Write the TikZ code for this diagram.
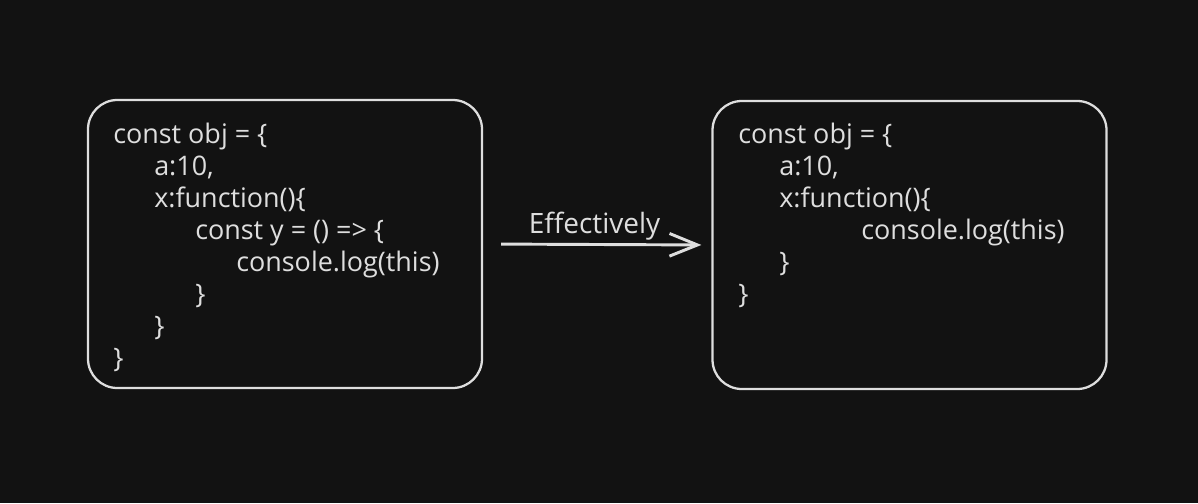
\documentclass[tikz,border=0pt]{standalone}
\usepackage{fontspec}
\setmainfont{Open Sans}
\usetikzlibrary{arrows.meta,positioning}
\definecolor{bgdark}{HTML}{121212}
\definecolor{chalk}{HTML}{DEDEDE}
\tikzset{
  codebox/.style={draw=chalk, line width=1.7pt, rounded corners=22pt, minimum width=295.5pt, minimum height=216pt},
  codeline/.style={text=chalk, font=\fontsize{20.2}{24}\selectfont, anchor=base west, inner sep=0pt},
  flow/.style={draw=chalk, line width=2.2pt, -{Straight Barb[length=21pt,width=17pt]}, shorten <=13.5pt, shorten >=7.5pt},
}
\begin{document}
\begin{tikzpicture}[x=0.75pt,y=-0.75pt]
\fill[bgdark] (0,0) rectangle (1198,503);

\node[codebox] (Lbox) at (285,244) {};
\node[codebox] (Rbox) at (909.5,245) {};

\foreach \lvl/\txt [count=\i] in {0/{const obj = \{}, 1/{a:10,}, 1/{x:function()\{}, 2/{const y = () => \{}, 3/{console.log(this)}, 2/{\}}, 1/{\}}, 0/{\}}}
  \node[codeline] (L\i) at ({113+41*\lvl},{143+32*(\i-1)}) {\txt};

\foreach \lvl/\txt [count=\i] in {0/{const obj = \{}, 1/{a:10,}, 1/{x:function()\{}, 3/{console.log(this)}, 1/{\}}, 0/{\}}}
  \node[codeline] (R\i) at ({738+41*\lvl},{143+32*(\i-1)}) {\txt};

\draw[flow] (Lbox.east) -- (Rbox.west) node[midway, above=-1.5pt, xshift=-2pt, text=chalk, font=\fontsize{21}{24}\selectfont] (eff) {Effectively};

\end{tikzpicture}
\end{document}
